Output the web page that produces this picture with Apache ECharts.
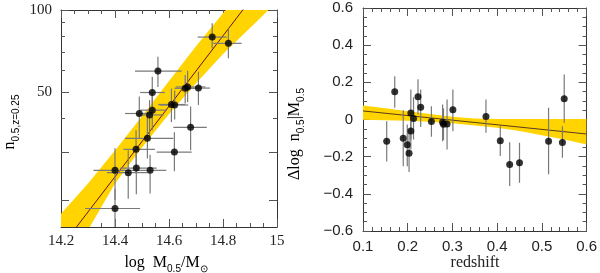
<!DOCTYPE html>
<html><head><meta charset="utf-8">
<script src="https://cdn.jsdelivr.net/npm/echarts@6/dist/echarts.min.js"></script>
<style>html,body{margin:0;padding:0;background:#fff}#c{width:600px;height:273px}</style>
</head><body><div id="c"></div>
<script>
// ---------- Left panel: richness vs mass ----------
const massX   = [14.760,14.820,14.559,14.538,14.660,14.669,14.709,14.609,14.621,14.538,14.490,14.528,14.680,14.520,14.478,14.620,14.400,14.449,14.479,14.530,14.400];
const massXLo = [14.706,14.764,14.474,14.493,14.620,14.625,14.659,14.560,14.565,14.493,14.437,14.480,14.616,14.437,14.431,14.554,14.320,14.370,14.419,14.480,14.289];
const massXHi = [14.814,14.869,14.647,14.585,14.720,14.735,14.752,14.660,14.671,14.591,14.542,14.580,14.740,14.616,14.548,14.684,14.486,14.520,14.554,14.590,14.493];
const richN   = [79.5,75.4,59.6,49.7,51.5,52.1,51.6,44.9,44.7,42.8,41.6,41.1,37.0,33.7,30.7,30.0,25.7,25.2,26.2,25.7,18.6];
const richNLo = [72.2,66.4,52.1,42.8,45.3,45.9,44.7,38.7,39.5,36.1,33.7,34.1,30.5,28.4,25.0,25.5,20.0,20.2,21.0,21.1,14.0];
const richNHi = [89.3,85.6,67.3,56.8,57.6,59.7,59.3,51.4,50.5,49.3,48.0,46.6,44.1,42.2,36.1,35.5,31.0,30.5,30.0,29.3,22.0];
const fitMassX = [14.2, 15.0];
const fitMassN = [13.4, 146];
const bandMassX  = [14.2,14.3,14.4,14.5,14.6,14.7,14.8,14.9,15.0];
const bandMassHi = [17.8,23.0,30.4,40.6,54.8,73.5,97.2,128.8,169.8];
const bandMassLo = [11.5,15.5,23.0,31.2,41.4,53.7,68.9,85.9,107.2];
const massLabelTicks = [50, 100];
const massMajorTicks = [20, 30, 50, 100];
const massMinorTicks = [40, 60, 70, 80, 90];

// ---------- Right panel: residual vs redshift ----------
const zX     = [0.153,0.171,0.190,0.199,0.203,0.207,0.207,0.213,0.223,0.229,0.253,0.278,0.280,0.288,0.301,0.375,0.407,0.428,0.450,0.515,0.546,0.550];
const resid  = [-0.117,0.150,-0.101,-0.136,-0.181,0.035,-0.062,0.005,0.123,0.066,-0.011,-0.015,-0.025,-0.024,0.052,0.016,-0.115,-0.242,-0.233,-0.117,-0.124,0.111];
const residLo= [-0.226,0.063,-0.251,-0.251,-0.282,-0.107,-0.161,-0.107,0.027,-0.040,-0.093,-0.117,-0.110,-0.161,-0.063,-0.071,-0.197,-0.358,-0.340,-0.295,-0.206,-0.018];
const residHi= [-0.009,0.233,0.050,-0.027,-0.054,0.161,-0.009,0.120,0.217,0.161,0.071,0.081,0.060,0.107,0.161,0.107,-0.036,-0.122,-0.125,0.063,-0.036,0.242];
const fitZX = [0.1, 0.6];
const fitZY = [0.046, -0.078];
const bandZX = [0.1,0.15,0.2,0.25,0.3,0.35,0.4,0.45,0.5,0.55,0.6];
const bandZHi = [0.075,0.06,0.045,0.03,0.015,0.005,0.003,0.003,0.003,0.003,0.003];
const bandZLo = [-0.002,-0.004,-0.007,-0.012,-0.02,-0.032,-0.045,-0.062,-0.085,-0.108,-0.134];

const L = Math.log10;
const YEL = '#FFD400', ERR = '#7a7a7a', AX = '#333', TK = '#555', TXT = '#222';
const SERIF = 'Liberation Serif', SANS = 'Liberation Sans';

function bandSeries(xi, yi, xs, hi, lo) {
  return {
    type: 'custom', xAxisIndex: xi, yAxisIndex: yi, z: 1, silent: true,
    data: [[xs[0], lo[0]]],
    renderItem: function (params, api) {
      const pts = [];
      for (let i = 0; i < xs.length; i++) pts.push(api.coord([xs[i], hi[i]]));
      for (let i = xs.length - 1; i >= 0; i--) pts.push(api.coord([xs[i], lo[i]]));
      const cs = params.coordSys;
      return { type: 'group', clipPath: { type: 'rect', shape: { x: cs.x, y: cs.y, width: cs.width, height: cs.height } },
        children: [{ type: 'polygon', shape: { points: pts }, style: { fill: YEL, stroke: null } }] };
    }
  };
}
function errSeries(xi, yi, rows) {
  return {
    type: 'custom', xAxisIndex: xi, yAxisIndex: yi, z: 3, silent: true,
    data: rows,
    renderItem: function (params, api) {
      const x = api.value(0), y = api.value(1), x0 = api.value(2), x1 = api.value(3), y0 = api.value(4), y1 = api.value(5);
      const st = { stroke: ERR, lineWidth: 1.2 };
      const ch = [];
      if (x0 !== x1) { const a = api.coord([x0, y]), b = api.coord([x1, y]); ch.push({ type: 'line', shape: { x1: a[0], y1: a[1], x2: b[0], y2: b[1] }, style: st }); }
      const c = api.coord([x, y0]), d = api.coord([x, y1]);
      ch.push({ type: 'line', shape: { x1: c[0], y1: c[1], x2: d[0], y2: d[1] }, style: st });
      const cs = params.coordSys;
      return { type: 'group', clipPath: { type: 'rect', shape: { x: cs.x, y: cs.y, width: cs.width, height: cs.height } }, children: ch };
    }
  };
}

const leftRows = massX.map((x, i) => [x, L(richN[i]), massXLo[i], massXHi[i], L(richNLo[i]), L(richNHi[i])]);
const rightRows = zX.map((x, i) => [x, resid[i], x, x, residLo[i], residHi[i]]);

const lineAx = { show: true, onZero: false, lineStyle: { color: AX, width: 1 } };
function xAx(grid, pos, min, max, iv, split, labels, fam, margin) {
  return { type: 'value', gridIndex: grid, position: pos, min: min, max: max, interval: iv,
    axisLine: lineAx, splitLine: { show: false },
    axisTick: { show: true, inside: true, length: 8, lineStyle: { color: TK } },
    minorTick: { show: true, splitNumber: split, length: 4, lineStyle: { color: TK } },
    axisLabel: { show: labels, margin: margin, color: TXT, fontFamily: fam, fontSize: 15,
      formatter: v => String(+v.toFixed(2)).replace('-', '\u2212') } };
}
const yMin = L(15.9), yMax = 2;
function yLogAx(pos, ticks, len, labels, line) {
  return { type: 'value', gridIndex: 0, position: pos, min: yMin, max: yMax,
    axisLine: line ? lineAx : { show: false, onZero: false }, splitLine: { show: false },
    axisTick: { show: true, inside: true, length: len, customValues: ticks.map(L), lineStyle: { color: TK } },
    axisLabel: { show: labels, margin: 9, color: TXT, fontFamily: SERIF, fontSize: 15,
      customValues: massLabelTicks.map(L), formatter: v => String(Math.round(Math.pow(10, v))) } };
}
function yLinAx(pos, labels) {
  return { type: 'value', gridIndex: 1, position: pos, min: -0.6, max: 0.6, interval: 0.2,
    axisLine: lineAx, splitLine: { show: false },
    axisTick: { show: true, inside: true, length: 8, lineStyle: { color: TK } },
    minorTick: { show: true, splitNumber: 4, length: 4, lineStyle: { color: TK } },
    axisLabel: { show: labels, margin: 10, color: TXT, fontFamily: SANS, fontSize: 15,
      formatter: v => String(+v.toFixed(2)).replace('-', '\u2212') } };
}

const subRich = {
  t: { fontFamily: SERIF, fontSize: 16, color: TXT, verticalAlign: 'middle', lineHeight: 22 },
  s: { fontFamily: SANS, fontSize: 10, color: TXT, verticalAlign: 'bottom', lineHeight: 14 }
};

const chart = echarts.init(document.getElementById('c'), null, { renderer: 'canvas' });
chart.setOption({
  animation: false,
  backgroundColor: '#fff',
  grid: [
    { left: 61, top: 10, width: 216, height: 217 },
    { left: 363, top: 8, width: 224, height: 223 }
  ],
  xAxis: [
    xAx(0, 'bottom', 14.2, 15, 0.2, 4, true, SERIF, 7),
    xAx(0, 'top', 14.2, 15, 0.2, 4, false, SERIF, 7),
    xAx(1, 'bottom', 0.1, 0.6, 0.1, 5, true, SANS, 8),
    xAx(1, 'top', 0.1, 0.6, 0.1, 5, false, SANS, 8)
  ],
  yAxis: [
    yLogAx('left', massMajorTicks, 8, true, true),
    yLogAx('left', massMinorTicks, 4, false, false),
    yLogAx('right', massMajorTicks, 8, false, true),
    yLogAx('right', massMinorTicks, 4, false, false),
    yLinAx('left', true),
    yLinAx('right', false)
  ],
  graphic: [
    { type: 'text', x: 10, y: 122, rotation: Math.PI / 2,
      style: { text: '{t|n}{s|0.5,z=0.25}', rich: subRich, align: 'center', verticalAlign: 'middle' } },
    { type: 'text', x: 295, y: 134, rotation: Math.PI / 2,
      style: { text: '{t|\u0394log  n}{s|0.5}{t||M}{s|0.5}', rich: subRich, align: 'center', verticalAlign: 'middle' } },
    { type: 'text', x: 166, y: 263,
      style: { text: '{t|log  M}{s|0.5}{t|/M}{s|\u2299}', rich: subRich, align: 'center', verticalAlign: 'middle' } },
    { type: 'text', x: 475, y: 263,
      style: { text: 'redshift', fontFamily: SERIF, fontSize: 16, fill: TXT, align: 'center', verticalAlign: 'middle' } }
  ],
  series: [
    bandSeries(0, 0, bandMassX, bandMassHi.map(L), bandMassLo.map(L)),
    { type: 'line', xAxisIndex: 0, yAxisIndex: 0, z: 2, symbol: 'none', clip: true, silent: true,
      data: fitMassX.map((x, i) => [x, L(fitMassN[i])]), lineStyle: { color: '#6b1010', width: 1 } },
    errSeries(0, 0, leftRows),
    { type: 'scatter', xAxisIndex: 0, yAxisIndex: 0, z: 4, symbolSize: 7, silent: true,
      itemStyle: { color: '#000' }, data: massX.map((x, i) => [x, L(richN[i])]) },

    bandSeries(2, 4, bandZX, bandZHi, bandZLo),
    { type: 'line', xAxisIndex: 2, yAxisIndex: 4, z: 2, symbol: 'none', clip: true, silent: true,
      data: fitZX.map((x, i) => [x, fitZY[i]]), lineStyle: { color: '#5b3a1e', width: 1 } },
    errSeries(2, 4, rightRows),
    { type: 'scatter', xAxisIndex: 2, yAxisIndex: 4, z: 4, symbolSize: 7, silent: true,
      itemStyle: { color: '#000' }, data: zX.map((x, i) => [x, resid[i]]) }
  ]
});
</script></body></html>
